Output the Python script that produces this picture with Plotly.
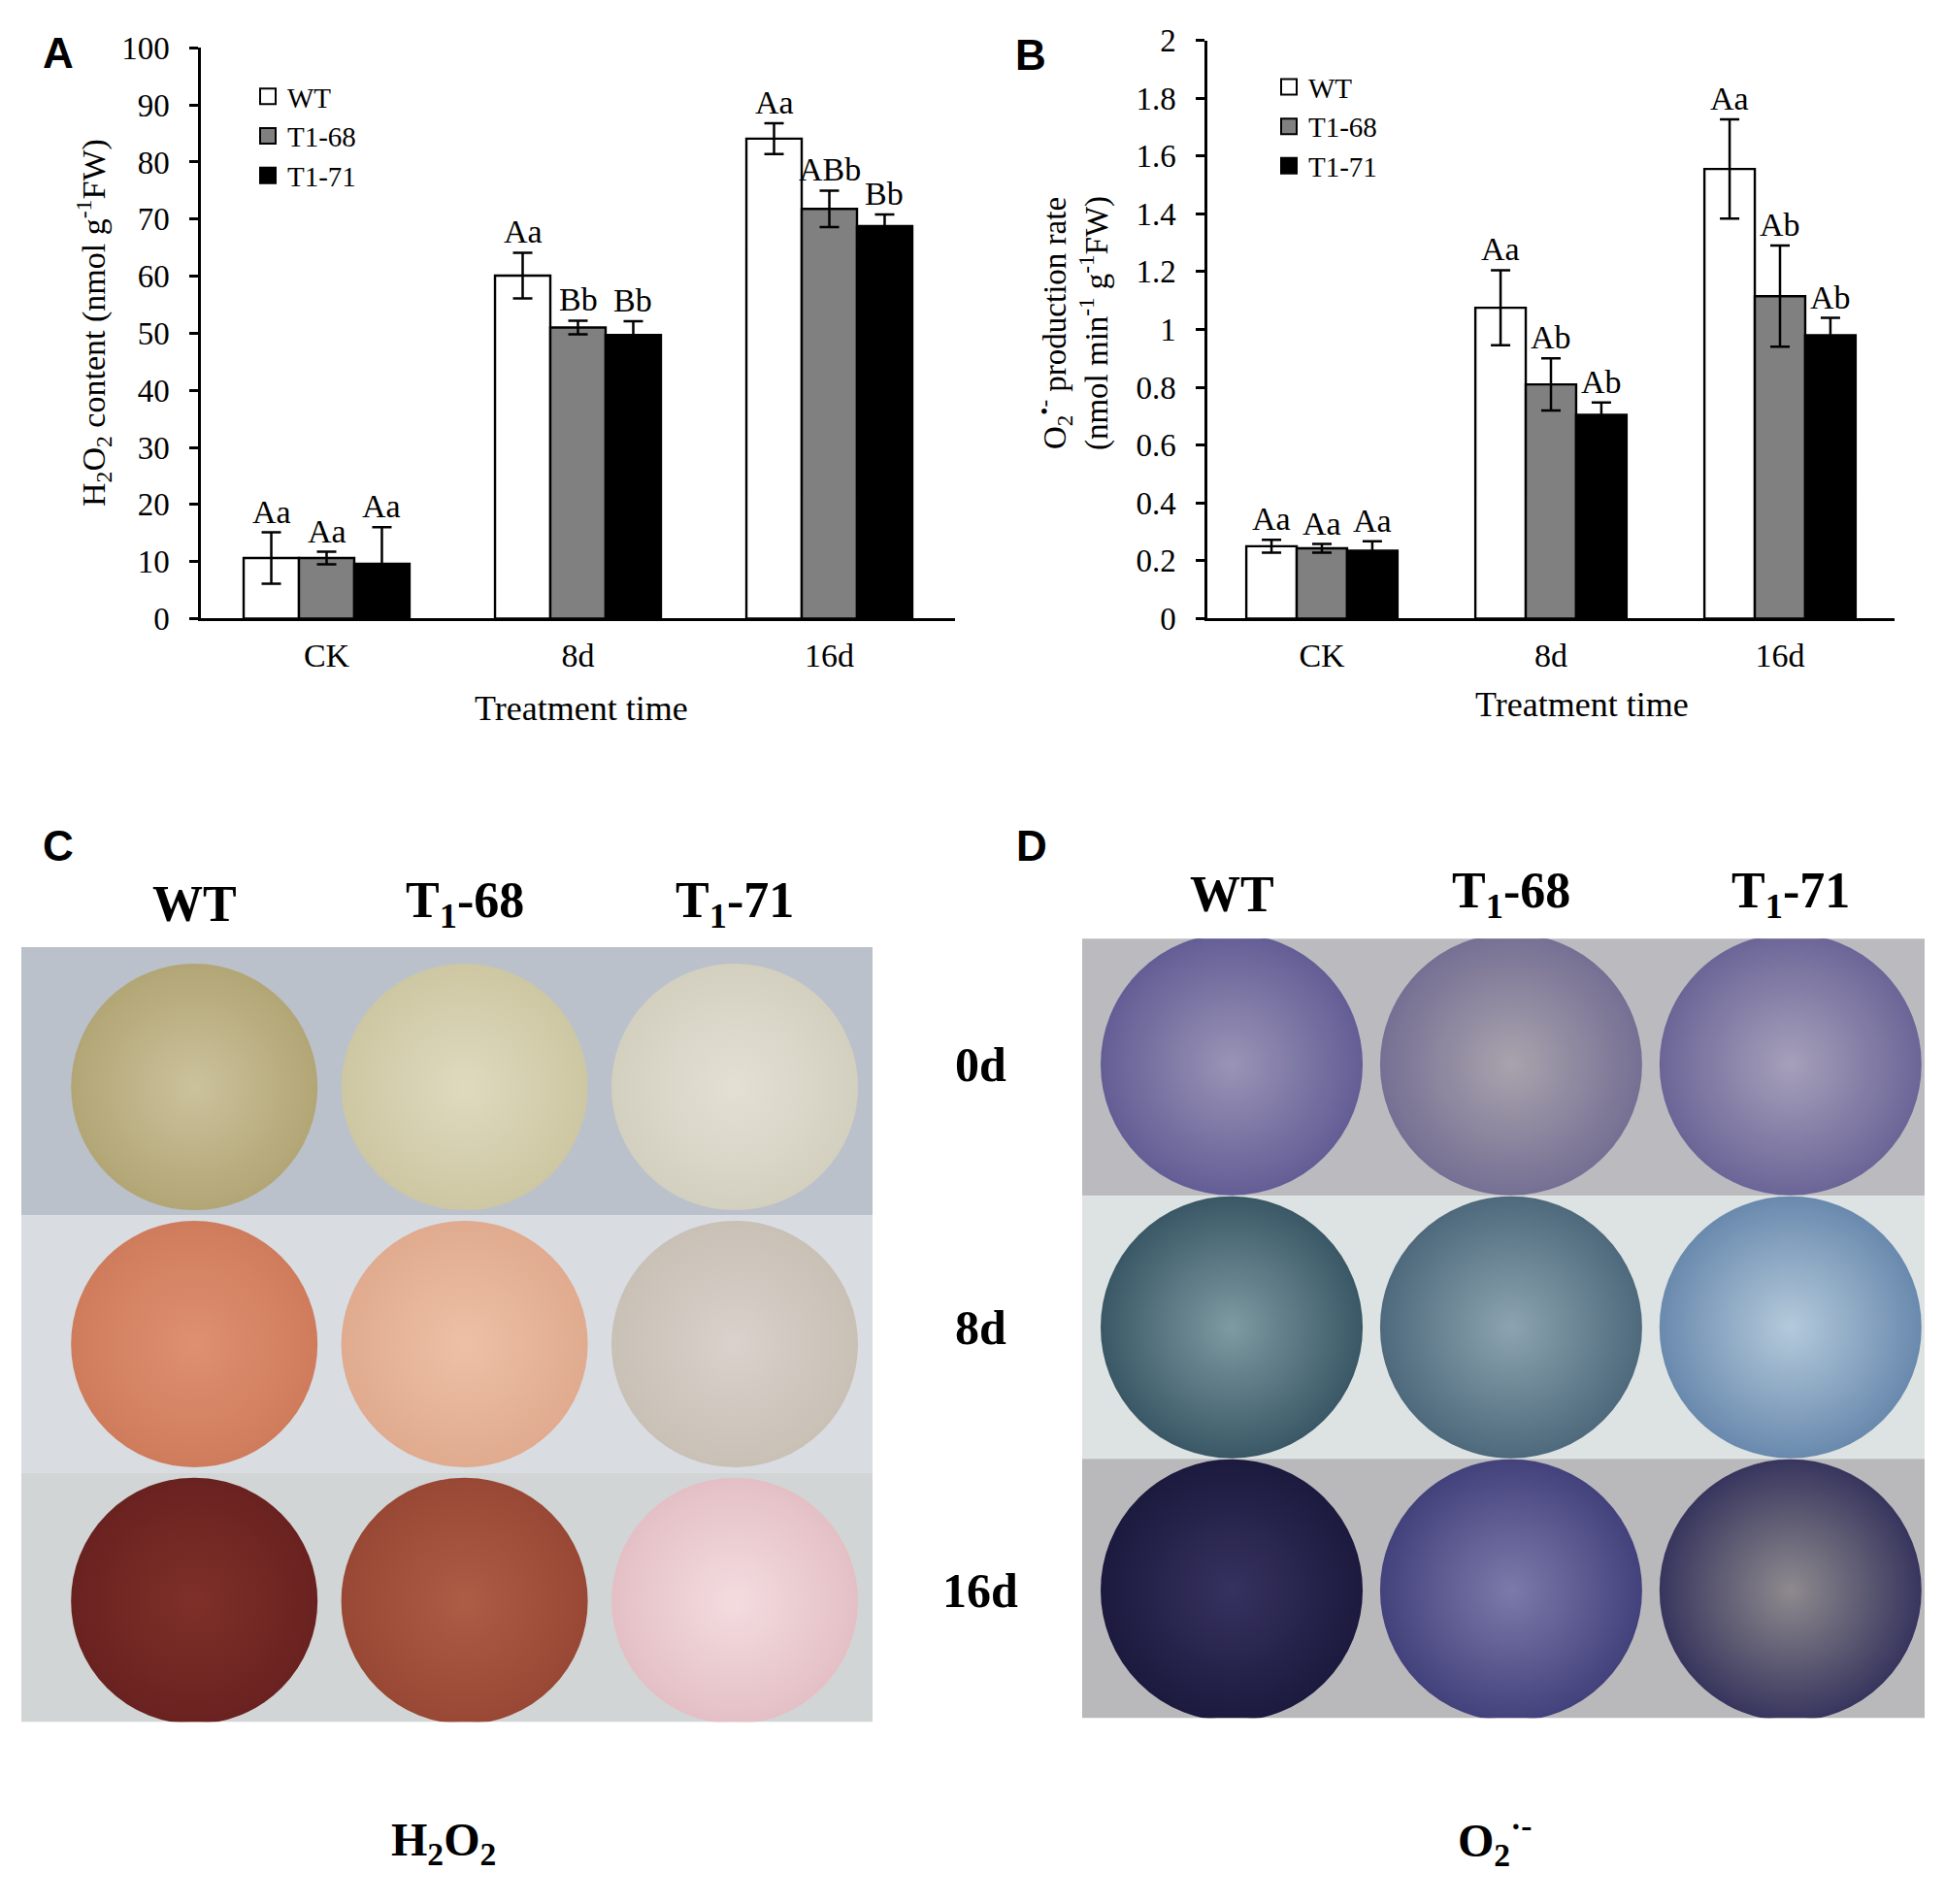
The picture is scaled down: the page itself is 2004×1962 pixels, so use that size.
import plotly.graph_objects as go

W, H = 2004, 1962
SERIF = "Liberation Serif"
SANS = "Liberation Sans"

# ---------------- data ----------------
categories = ["CK", "8d", "16d"]
genotypes = ["WT", "T1-68", "T1-71"]
bar_colors = ["#ffffff", "#808080", "#000000"]

# Panel A: H2O2 content (nmol g-1 FW)
h2o2_mean = {
    "WT": [10.6, 60.1, 84.1],
    "T1-68": [10.6, 51.0, 71.8],
    "T1-71": [9.6, 49.7, 68.8],
}
h2o2_err = {
    "WT": [4.5, 4.0, 2.7],
    "T1-68": [1.1, 1.2, 3.2],
    "T1-71": [6.4, 2.4, 2.0],
}
h2o2_letters = {
    "WT": ["Aa", "Aa", "Aa"],
    "T1-68": ["Aa", "Bb", "ABb"],
    "T1-71": ["Aa", "Bb", "Bb"],
}

# Panel B: O2.- production rate (nmol min-1 g-1 FW)
o2_mean = {
    "WT": [0.250, 1.075, 1.555],
    "T1-68": [0.243, 0.810, 1.115],
    "T1-71": [0.235, 0.705, 0.980],
}
o2_err = {
    "WT": [0.022, 0.130, 0.172],
    "T1-68": [0.015, 0.090, 0.175],
    "T1-71": [0.032, 0.042, 0.060],
}
o2_letters = {
    "WT": ["Aa", "Aa", "Aa"],
    "T1-68": ["Aa", "Ab", "Ab"],
    "T1-71": ["Aa", "Ab", "Ab"],
}

# Panels C / D: stained leaf discs (rows = days, cols = genotypes)
days = ["0d", "8d", "16d"]
disc_headers = ["WT", "T<sub>1</sub>-68", "T<sub>1</sub>-71"]
dab_edge = [["#b3a676", "#cdc7a3", "#d4d0c0"],
            ["#cf7c5c", "#e0ab8f", "#c9c0b6"],
            ["#6a2220", "#984834", "#e4c0c6"]]
dab_center = [["#cbc19c", "#dfdabf", "#e3dfd4"],
              ["#de9070", "#edc0a6", "#d9d1cb"],
              ["#7e3028", "#ad5c46", "#f3dcdf"]]
nbt_edge = [["#645e96", "#767094", "#6c6698"],
            ["#3a5866", "#4e6a7c", "#6a8aae"],
            ["#1c1a3e", "#44427c", "#38365e"]]
nbt_center = [["#9a94b6", "#a9a3ad", "#a6a0ba"],
              ["#7e9aa2", "#8ca4b0", "#b4cadb"],
              ["#363260", "#7c7aaa", "#8e8a8e"]]
strip_c = ["#bac1cb", "#d9dde2", "#d2d5d5"]
strip_d = ["#bbbbbf", "#dde2e2", "#b9b9bc"]


def px_x(p):
    return p / W


def px_y(p):
    return 1 - p / H


fig = go.Figure()

bargap = 0.34
bw = (1 - bargap) / 3
letter_notes = []


def add_bar_panel(means, errs, letters, xa, ya, legend):
    for k, g in enumerate(genotypes):
        fig.add_trace(go.Bar(
            x=[0, 1, 2], y=means[g], name=g, xaxis=xa, yaxis=ya,
            marker=dict(color=bar_colors[k], line=dict(color="black", width=2.4)),
            error_y=dict(type="data", array=errs[g], visible=True,
                         color="black", thickness=2.5, width=10),
            showlegend=False,
        ))
        for i in range(3):
            letter_notes.append(dict(
                text=letters[g][i], x=i + (k - 1) * bw, y=means[g][i] + errs[g][i],
                xref=xa, yref=ya, showarrow=False, xanchor="center",
                yanchor="bottom", yshift=1,
                font=dict(family=SERIF, size=34, color="black")))
        fig.add_trace(go.Scatter(
            x=[None], y=[None], mode="markers", name=g, xaxis=xa, yaxis=ya,
            marker=dict(symbol="square", size=16, color=bar_colors[k],
                        line=dict(color="black", width=2)),
            legend=legend, showlegend=True,
        ))


add_bar_panel(h2o2_mean, h2o2_err, h2o2_letters, "x", "y", "legend")
add_bar_panel(o2_mean, o2_err, o2_letters, "x2", "y2", "legend2")


def add_discs(edge, center, xa, ya, size):
    xs, ys, ce, cc = [], [], [], []
    for r in range(3):
        for c in range(3):
            xs.append(c)
            ys.append(r)
            ce.append(edge[r][c])
            cc.append(center[r][c])
    fig.add_trace(go.Scatter(
        x=xs, y=ys, mode="markers", xaxis=xa, yaxis=ya, showlegend=False,
        hoverinfo="skip",
        marker=dict(symbol="circle", size=size, color=ce,
                    gradient=dict(type="radial", color=cc),
                    line=dict(color=ce, width=2)),
    ))


add_discs(dab_edge, dab_center, "x3", "y3", 252)
add_discs(nbt_edge, nbt_center, "x4", "y4", 268)

axis_common = dict(showline=True, linecolor="black", linewidth=2.5,
                   showgrid=False, zeroline=False, mirror=False)
tickfont = dict(family=SERIF, size=33, color="black")
xtickfont = dict(family=SERIF, size=34, color="black")

fig.update_layout(
    width=W, height=H, margin=dict(l=0, r=0, t=0, b=0),
    paper_bgcolor="white", plot_bgcolor="white",
    barmode="group", bargap=bargap, bargroupgap=0,
    font=dict(family=SERIF, color="black"),
    xaxis=dict(domain=[px_x(207), px_x(984)], range=[-0.5, 2.5],
               tickvals=[0, 1, 2], ticktext=categories, ticks="",
               tickfont=xtickfont, ticklabelstandoff=6, anchor="y",
               **axis_common),
    yaxis=dict(domain=[px_y(632), px_y(33)], range=[0, 100], dtick=10,
               ticks="outside", ticklen=9, tickwidth=2.5, tickcolor="black",
               tickfont=tickfont, ticklabelstandoff=14, anchor="x",
               **axis_common),
    xaxis2=dict(domain=[px_x(1244), px_x(1952)], range=[-0.5, 2.5],
                tickvals=[0, 1, 2], ticktext=categories, ticks="",
                tickfont=xtickfont, ticklabelstandoff=6, anchor="y2",
                **axis_common),
    yaxis2=dict(domain=[px_y(632), px_y(25)], range=[0, 2], dtick=0.2,
                ticks="outside", ticklen=9, tickwidth=2.5, tickcolor="black",
                tickfont=tickfont, ticklabelstandoff=14, anchor="x2",
                **axis_common),
    xaxis3=dict(domain=[px_x(22), px_x(899)], range=[-0.64, 2.51],
                visible=False, anchor="y3"),
    yaxis3=dict(domain=[px_y(1790), px_y(977)], range=[2.47, -0.544],
                visible=False, anchor="x3"),
    xaxis4=dict(domain=[px_x(1115), px_x(1983)], range=[-0.535, 2.48],
                visible=False, anchor="y4"),
    yaxis4=dict(domain=[px_y(1786), px_y(968)], range=[2.485, -0.478],
                visible=False, anchor="x4"),
    legend=dict(x=px_x(256), y=px_y(58), xanchor="left", yanchor="top",
                font=dict(family=SERIF, size=29, color="black"),
                bgcolor="rgba(0,0,0,0)", tracegroupgap=0, itemwidth=30),
    legend2=dict(x=px_x(1308), y=px_y(48), xanchor="left", yanchor="top",
                 font=dict(family=SERIF, size=29, color="black"),
                 bgcolor="rgba(0,0,0,0)", tracegroupgap=0, itemwidth=30),
)

# photo background strips
shapes = []
for i, col in enumerate(strip_c):
    shapes.append(dict(type="rect", xref="x3 domain", yref="y3",
                       x0=0, x1=1, y0=i - 0.5 if i else -0.6,
                       y1=i + 0.5 if i < 2 else 2.6,
                       fillcolor=col, line=dict(width=0), layer="below"))
for i, col in enumerate(strip_d):
    shapes.append(dict(type="rect", xref="x4 domain", yref="y4",
                       x0=0, x1=1, y0=i - 0.5 if i else -0.6,
                       y1=i + 0.5 if i < 2 else 2.6,
                       fillcolor=col, line=dict(width=0), layer="below"))
fig.update_layout(shapes=shapes)


def note(text, x, y, size, family=SERIF, xref="paper", yref="paper", angle=0):
    return dict(text=text, x=x, y=y, xref=xref, yref=yref, showarrow=False,
                xanchor="center", yanchor="middle", textangle=angle,
                font=dict(family=family, size=size, color="black"))


ann = list(letter_notes)
# panel letters
for lab, x, y in [("A", 60, 38), ("B", 1062, 40), ("C", 60, 870), ("D", 1063, 870)]:
    ann.append(note("<b>%s</b>" % lab, px_x(x), px_y(y), 44, family=SANS))
# axis titles
ann.append(note("H<sub>2</sub>O<sub>2</sub> content (nmol g<sup>-1</sup>FW)",
                px_x(96), px_y(322), 34, angle=-90))
ann.append(note("O<sub>2</sub><sup>•-</sup> production rate<br>(nmol min<sup>-1</sup> g<sup>-1</sup>FW)",
                px_x(1106), px_y(322), 33, angle=-90))
ann.append(note("Treatment time", px_x(599), px_y(726), 36))
ann.append(note("Treatment time", px_x(1630), px_y(722), 36))
# disc headers
for c, hdr in enumerate(disc_headers):
    ann.append(note("<b>%s</b>" % hdr, c, px_y(932), 52, xref="x3"))
    ann.append(note("<b>%s</b>" % hdr, c, px_y(921), 52, xref="x4"))
for r, d in enumerate(days):
    ann.append(note("<b>%s</b>" % d, px_x(1010), r, 50, yref="y4"))
ann.append(note("<b>H<sub>2</sub>O<sub>2</sub></b>", px_x(457), px_y(1917), 48))
ann.append(note("<b>O<sub>2</sub><sup>·-</sup></b>", px_x(1540), px_y(1915), 48))
fig.update_layout(annotations=ann)

fig.write_html("out.html", config={"displayModeBar": False},
               post_script="document.body.style.margin='0px';")
